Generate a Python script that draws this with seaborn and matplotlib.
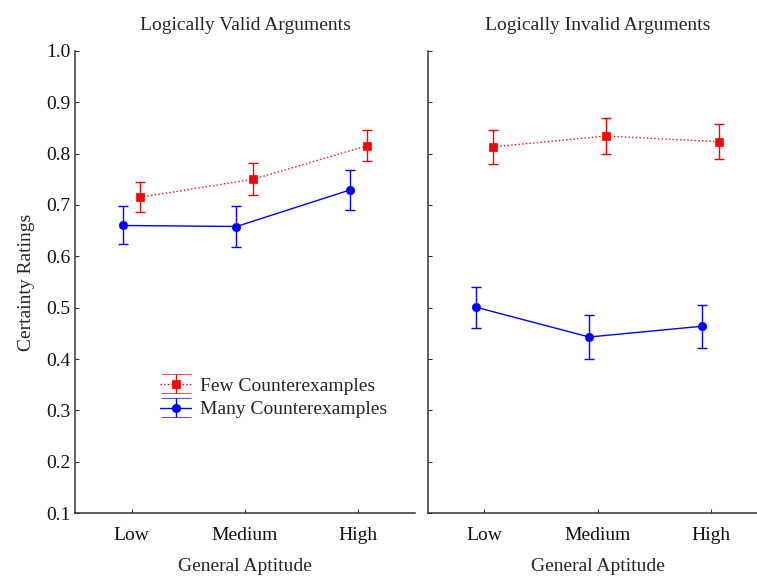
import numpy as np
import pandas as pd
import matplotlib
matplotlib.use("Agg")
import matplotlib.pyplot as plt
import seaborn as sns

sns.set_style("ticks")
plt.rcParams.update({
    "font.family": ["Liberation Serif", "DejaVu Serif"],
    "font.size": 14,
    "axes.linewidth": 1.1,
    "axes.edgecolor": "#333333",
    "xtick.direction": "in",
    "ytick.direction": "in",
    "xtick.major.size": 3,
    "ytick.major.size": 3,
    "xtick.color": "#333333",
    "ytick.color": "#333333",
    "xtick.labelcolor": "#111111",
    "ytick.labelcolor": "#111111",
})

# ---------------------------------------------------------------------------
# Datos
# ---------------------------------------------------------------------------
aptitude = ["Low", "Medium", "High"]
conditions = ["Many Counterexamples", "Few Counterexamples"]
panels = ["Logically Valid Arguments", "Logically Invalid Arguments"]

valid_few = [0.715, 0.750, 0.815]
valid_few_err = [0.029, 0.031, 0.030]
valid_many = [0.660, 0.658, 0.729]
valid_many_err = [0.037, 0.039, 0.038]

invalid_few = [0.813, 0.834, 0.823]
invalid_few_err = [0.033, 0.035, 0.034]
invalid_many = [0.501, 0.443, 0.464]
invalid_many_err = [0.040, 0.043, 0.042]

colors = {"Few Counterexamples": "#FF0000", "Many Counterexamples": "#0000FF"}
markers = {"Few Counterexamples": "s", "Many Counterexamples": "o"}
lstyles = {"Few Counterexamples": ":", "Many Counterexamples": "-"}

panel_data = {
    panels[0]: {"Few Counterexamples": (valid_few, valid_few_err),
                "Many Counterexamples": (valid_many, valid_many_err)},
    panels[1]: {"Few Counterexamples": (invalid_few, invalid_few_err),
                "Many Counterexamples": (invalid_many, invalid_many_err)},
}

fig = plt.figure(figsize=(7.57, 5.76), dpi=100)
ax_left = fig.add_axes([0.0991, 0.1089, 0.449, 0.803])
ax_right = fig.add_axes([0.565, 0.1089, 0.449, 0.803])

for ax, panel in zip([ax_left, ax_right], panels):
    rows = []
    for cond in conditions:
        means, errs = panel_data[panel][cond]
        for apt, m, e in zip(aptitude, means, errs):
            rows.append({"aptitude": apt, "condition": cond, "mean": m, "err": e})
    df = pd.DataFrame(rows)

    sns.pointplot(data=df, x="aptitude", y="mean", hue="condition",
                  order=aptitude, hue_order=conditions, dodge=0.15,
                  palette=colors, markers=[markers[c] for c in conditions],
                  linestyles=[lstyles[c] for c in conditions],
                  errorbar=None, markersize=6, markeredgewidth=0.5,
                  linewidth=1.0, legend=False, ax=ax)

    # barras de error en las mismas posiciones que dibujó seaborn
    for line, cond in zip(ax.lines[:len(conditions)], conditions):
        sub = df[df["condition"] == cond].set_index("aptitude").loc[aptitude]
        ax.errorbar(line.get_xdata(), sub["mean"], yerr=sub["err"],
                    fmt="none", ecolor=colors[cond], elinewidth=1.0,
                    capsize=3.8, capthick=1.0, zorder=1)

    ax.set_xlim(-0.5, 2.5)
    ax.set_ylim(0.1, 1.0)
    ax.set_yticks(np.arange(0.1, 1.01, 0.1))
    ax.set_title(panel, fontsize=14, pad=15)
    ax.set_xlabel("General Aptitude", fontsize=14, labelpad=10)
    ax.tick_params(axis="x", pad=10)
    sns.despine(ax=ax)

ax_left.set_ylabel("Certainty Ratings", fontsize=14, labelpad=8)
ax_left.set_yticklabels([f"{v:.1f}" for v in np.arange(0.1, 1.01, 0.1)])
ax_right.set_ylabel("")
ax_right.set_yticklabels([])

# leyenda: símbolos de barra de error con topes anchos
leg_order = ["Few Counterexamples", "Many Counterexamples"]
proxies = []
for cond in leg_order:
    proxies.append(ax_left.errorbar([np.nan], [np.nan], yerr=[0.0],
                                    color=colors[cond], marker=markers[cond],
                                    linestyle=lstyles[cond], markersize=6,
                                    markeredgewidth=0.5, linewidth=1.0,
                                    capsize=10.5, capthick=1.0))
ax_left.legend(proxies, leg_order,
               loc="center left", bbox_to_anchor=(0.25, 0.25), frameon=False,
               borderpad=0, borderaxespad=0, handlelength=1.6,
               handletextpad=0.45, labelspacing=0.32, fontsize=14)

fig.savefig("out.png", dpi=100)
